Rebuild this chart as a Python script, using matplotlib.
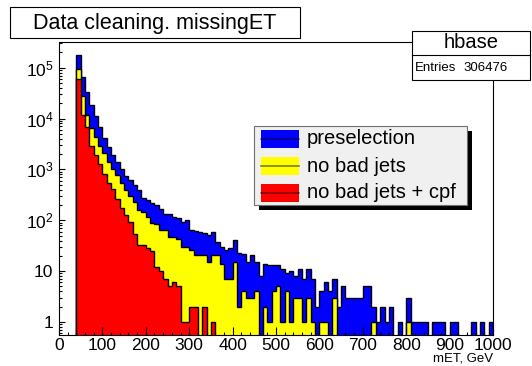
import numpy as np
import matplotlib
matplotlib.use("Agg")
from matplotlib import pyplot as plt
from matplotlib import ticker
from matplotlib.patches import Rectangle
from matplotlib.lines import Line2D

plt.rcParams['font.family'] = ['Liberation Sans', 'DejaVu Sans']
plt.rcParams['mathtext.fontset'] = 'custom'
plt.rcParams['mathtext.rm'] = 'Liberation Sans'
plt.rcParams['mathtext.it'] = 'Liberation Sans:italic'

# 10 GeV bins, 0..1000
bin_edges = list(range(0, 1010, 10))

preselection = [
    0, 0, 0, 0, 174000, 66000, 33000, 18200, 11000, 6800,
    4200, 2750, 1950, 1380, 1020, 740, 630, 500, 400, 280,
    250, 215, 200, 166, 135, 135, 115, 112, 93, 100,
    65, 63, 58, 56, 51, 59, 38, 30, 26, 28,
    41, 23, 22, 15, 21, 15, 8, 14, 13, 13,
    13, 11, 9, 10, 8, 11, 7, 11, 7, 2,
    4, 6, 4, 7, 2, 5, 3, 3, 3, 3,
    5, 5, 2, 1, 2, 1, 2, 0, 1, 0,
    3, 1, 1, 1, 1, 0, 1, 1, 1, 0,
    1, 1, 0, 0, 0, 1, 0, 1, 0, 1,
]

no_bad_jets = [
    0, 0, 0, 0, 93000, 27500, 11500, 6500, 4400, 2900,
    2100, 1380, 1020, 760, 550, 400, 300, 224, 158, 148,
    117, 89, 85, 65, 65, 47, 47, 43, 30, 30,
    26, 21, 21, 21, 15, 21, 21, 14, 7, 7,
    15, 2, 4, 3, 3, 4, 0, 2, 1, 4,
    5, 1, 4, 1, 3, 3, 1, 3, 1, 0,
    1, 1, 0, 3, 0, 0, 0, 0, 0, 0,
    0, 0, 1, 0, 0, 0, 0, 0, 0, 0,
    1, 0, 0, 0, 0, 0, 0, 0, 0, 0,
    0, 0, 0, 0, 0, 0, 0, 0, 0, 0,
]

no_bad_jets_cpf = [
    0, 0, 0, 0, 60000, 11700, 6800, 2900, 1950, 1300,
    810, 550, 410, 263, 174, 129, 93, 55, 33, 32,
    29, 25, 12, 10, 7, 5, 6, 5, 1, 1,
    2, 2, 0, 2, 0, 1, 0, 0, 0, 0,
    0, 0, 0, 0, 0, 0, 0, 0, 0, 0,
    0, 0, 0, 0, 0, 0, 0, 0, 0, 0,
    0, 0, 0, 0, 0, 0, 0, 0, 0, 0,
    0, 0, 0, 0, 0, 0, 0, 0, 0, 0,
    0, 0, 0, 0, 0, 0, 0, 0, 0, 0,
    0, 0, 0, 0, 0, 0, 0, 0, 0, 0,
]

series = [
    ("preselection", preselection, "#0000ff"),
    ("no bad jets", no_bad_jets, "#ffff00"),
    ("no bad jets + cpf", no_bad_jets_cpf, "#ff0000"),
]

title = "Data cleaning. missingET"
hist_name = "hbase"
entries = 306476
y_ticks = [1, 10, 100, 1e3, 1e4, 1e5]
y_tick_labels = ["1", "10", r"$10^{2}$", r"$10^{3}$", r"$10^{4}$", r"$10^{5}$"]

W, H = 532, 366
fig = plt.figure(figsize=(W / 100, H / 100), dpi=100)


def fx(x):
    return x / W


def fy(y):
    return 1 - y / H


ax = fig.add_axes([fx(59), fy(335), (493 - 59) / W, (335 - 42) / H])
ax.set_yscale('log')
ybottom = 0.3

for name, vals, col in series:
    v = np.array(vals, dtype=float)
    v = np.where(v > 0, v, ybottom)
    ax.stairs(v, bin_edges, baseline=ybottom, fill=True, color=col, lw=0)
    ax.stairs(v, bin_edges, baseline=ybottom, color='black', lw=1.0)

ax.set_xlim(0, 1000)
ax.set_ylim(0.556, 3.2e5)

ax.set_xticks(range(0, 1001, 100))
ax.set_xticklabels([str(t) for t in range(0, 1001, 100)], fontsize=12.5)
ax.xaxis.set_minor_locator(ticker.MultipleLocator(20))
ax.set_yticks(y_ticks)
ax.set_yticklabels(y_tick_labels, fontsize=12.5)
ax.yaxis.set_minor_locator(ticker.LogLocator(base=10, subs=range(2, 10), numticks=20))
ax.yaxis.set_minor_formatter(ticker.NullFormatter())
ax.tick_params(which='both', direction='in', top=False, right=False, width=0.8)
ax.tick_params(axis='x', which='major', length=5.5, pad=2)
ax.tick_params(axis='y', which='major', length=4.5, pad=4)
ax.tick_params(which='minor', length=2.5)
for s in ax.spines.values():
    s.set_linewidth(0.8)

ax.set_xlabel("mET, GeV", fontsize=9.5, ha='right', va='top')
ax.xaxis.set_label_coords(1.0, -(352.5 - 335) / 293)

# title box
fig.add_artist(Rectangle((fx(10), fy(38)), 290 / W, 31 / H, transform=fig.transFigure,
                         facecolor='white', edgecolor='black', lw=0.8))
fig.text(fx(155), fy(23), title, ha='center', va='center', fontsize=15.5)

# stats box
fig.add_artist(Rectangle((fx(412), fy(80)), 118 / W, 49 / H, transform=fig.transFigure,
                         facecolor='white', edgecolor='black', lw=0.8))
fig.add_artist(Line2D([fx(412), fx(530)], [fy(55), fy(55)], transform=fig.transFigure,
                      color='black', lw=0.8))
fig.text(fx(471), fy(43), hist_name, ha='center', va='center', fontsize=14.5)
fig.text(fx(415), fy(68), "Entries", ha='left', va='center', fontsize=9.5)
fig.text(fx(508), fy(68), str(entries), ha='right', va='center', fontsize=9.5)

# legend
fig.add_artist(Rectangle((fx(259), fy(210)), 213 / W, 79 / H, transform=fig.transFigure,
                         facecolor='black', edgecolor='none'))
fig.add_artist(Rectangle((fx(254), fy(205)), 213 / W, 79 / H, transform=fig.transFigure,
                         facecolor='#f0f0f0', edgecolor='#707070', lw=0.8))
rows = [139, 166, 193]
for (name, vals, col), ry in zip(series, rows):
    fig.add_artist(Rectangle((fx(261), fy(ry + 9)), 38 / W, 18 / H, transform=fig.transFigure,
                             facecolor=col, edgecolor='none'))
    fig.add_artist(Line2D([fx(261), fx(299)], [fy(ry), fy(ry)], transform=fig.transFigure,
                          color='black', alpha=0.5, lw=1.2))
    fig.text(fx(307), fy(ry), name, ha='left', va='center', fontsize=14.5)

fig.savefig("out.png", dpi=100)
